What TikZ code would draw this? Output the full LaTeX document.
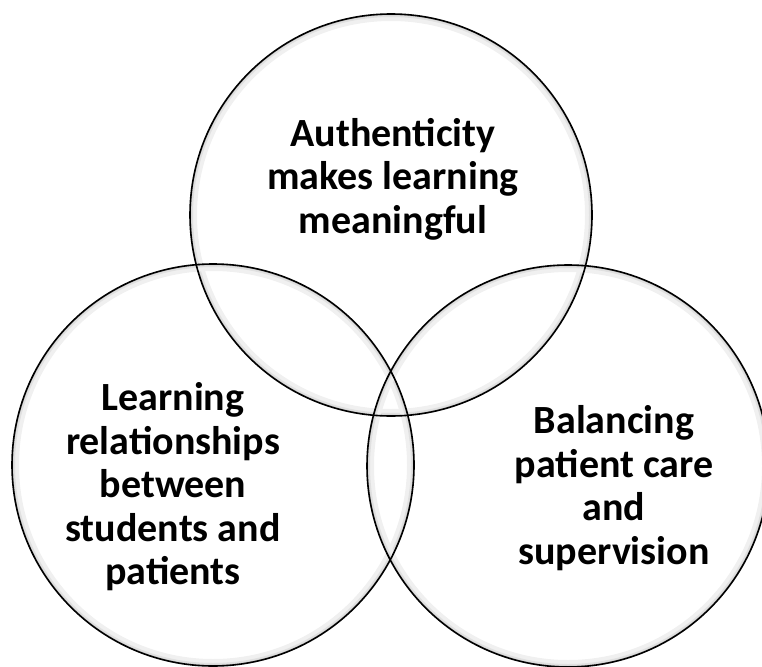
\documentclass[tikz,border=0pt]{standalone}
\usepackage{fontspec}
\setmainfont{Carlito}
\begin{document}
\begin{tikzpicture}[x=1pt,y=-1pt,
  ring/.style={draw=black,line width=1.6pt},
  glowA/.style={draw=black!6,line width=14pt},
  glowB/.style={draw=black!12,line width=6pt},
  glowC/.style={draw=black!22,line width=2.5pt},
  lbl/.style={align=center,font=\fontsize{40}{43.5}\selectfont\bfseries,inner sep=0pt}]
\useasboundingbox (0,0) rectangle (762,666);
\clip (0,0) rectangle (762,666);
\coordinate (ct) at (391,215);
\coordinate (cl) at (213,465);
\coordinate (cr) at (568,466);
\def\R{201}
\foreach \c in {ct,cl,cr}{
  \begin{scope}
    \clip (\c) circle (\R);
    \draw[glowA] (\c) circle (\R);
    \draw[glowB] (\c) circle (\R);
    \draw[glowC] (\c) circle (\R);
  \end{scope}
}
\foreach \c in {ct,cl,cr}{
  \draw[ring] (\c) circle (\R);
}
\node[lbl] (tt) at (393,179) {Authenticity\\makes learning\\meaningful};
\node[lbl] (tl) at (173,487) {Learning\\relationships\\between\\students and\\patients};
\node[lbl] (tr) at (614,488) {Balancing\\patient care\\and\\supervision};
\end{tikzpicture}
\end{document}
